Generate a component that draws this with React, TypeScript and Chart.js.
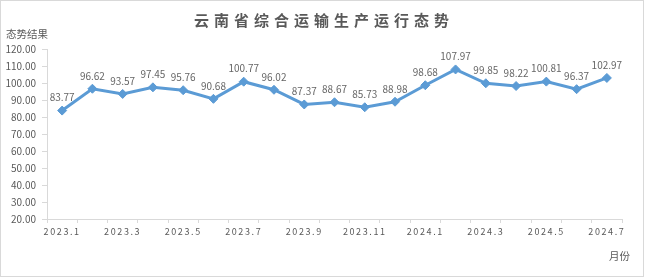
import React, { useEffect, useRef } from 'react';
import { Chart, registerables } from 'chart.js';

Chart.register(...registerables);

const TITLE = '云南省综合运输生产运行态势';
const Y_TITLE = '态势结果';
const X_TITLE = '月份';

const categories = [
  '2023.1', '2023.2', '2023.3', '2023.4', '2023.5', '2023.6', '2023.7', '2023.8', '2023.9', '2023.10',
  '2023.11', '2023.12', '2024.1', '2024.2', '2024.3', '2024.4', '2024.5', '2024.6', '2024.7',
];
const values = [
  83.77, 96.62, 93.57, 97.45, 95.76, 90.68, 100.77, 96.02, 87.37, 88.67,
  85.73, 88.98, 98.68, 107.97, 99.85, 98.22, 100.81, 96.37, 102.97,
];
const Y_MIN = 20;
const Y_MAX = 120;
const Y_STEP = 10;

const FONT = '"Noto Sans CJK SC", "Noto Sans", sans-serif';
const TEXT = '#595959';
const LINE = '#5b9bd5';
const AXIS = '#d9d9d9';

const decor = {
  id: 'decor',
  beforeDraw(chart: any) {
    const { ctx, width, height } = chart;
    ctx.save();
    ctx.fillStyle = '#ffffff';
    ctx.fillRect(0, 0, width, height);
    ctx.strokeStyle = AXIS;
    ctx.lineWidth = 1;
    ctx.strokeRect(0.5, 0.5, width - 2, height - 2);
    ctx.fillStyle = TEXT;
    ctx.textBaseline = 'middle';
    ctx.textAlign = 'center';
    ctx.font = `bold 15px ${FONT}`;
    (ctx as any).letterSpacing = '5px';
    ctx.fillText(TITLE, 324, 20);
    (ctx as any).letterSpacing = '0px';
    ctx.textAlign = 'left';
    ctx.font = `10.5px ${FONT}`;
    ctx.fillText(Y_TITLE, 6, 34);
    ctx.fillText(X_TITLE, 609, 256);
    ctx.restore();
  },
  afterDatasetsDraw(chart: any) {
    const { ctx } = chart;
    const meta = chart.getDatasetMeta(0);
    ctx.save();
    ctx.fillStyle = '#666666';
    ctx.font = `10px ${FONT}`;
    ctx.textAlign = 'center';
    ctx.textBaseline = 'middle';
    meta.data.forEach((pt: any, i: number) => {
      ctx.fillText(values[i].toFixed(2), pt.x, pt.y - 13);
    });
    ctx.restore();
    (ctx as any).letterSpacing = '1.6px';
  },
  afterDraw(chart: any) {
    (chart.ctx as any).letterSpacing = '0px';
  },
};

export default function App() {
  const ref = useRef<HTMLCanvasElement | null>(null);
  useEffect(() => {
    if (!ref.current) return;
    const chart = new Chart(ref.current, {
      type: 'line',
      data: {
        labels: categories,
        datasets: [
          {
            data: values,
            borderColor: LINE,
            backgroundColor: LINE,
            borderWidth: 3,
            pointStyle: 'rectRot',
            pointRadius: 4.5,
            pointBackgroundColor: LINE,
            pointBorderColor: LINE,
            pointBorderWidth: 1,
            tension: 0,
          },
        ],
      },
      options: {
        responsive: false,
        animation: false,
        layout: { padding: { top: 49, right: 23, bottom: 0, left: 0 } },
        plugins: {
          legend: { display: false },
          tooltip: { enabled: false },
          title: { display: false },
        },
        scales: {
          x: {
            offset: true,
            grid: { display: true, drawOnChartArea: false, drawTicks: true, tickLength: 4, color: AXIS, offset: true },
            border: { display: true, color: AXIS, width: 1 },
            ticks: {
              z: 1,
              autoSkip: false,
              maxRotation: 0,
              minRotation: 0,
              padding: 3,
              color: TEXT,
              font: { size: 9, family: FONT },
              callback: (_v: any, i: number) => (i % 2 === 0 ? categories[i] : ''),
            },
            afterFit: (s: any) => {
              s.height = 59;
            },
          },
          y: {
            min: Y_MIN,
            max: Y_MAX,
            grid: { display: true, drawOnChartArea: false, drawTicks: true, tickLength: 5, color: AXIS },
            border: { display: true, color: AXIS, width: 1 },
            ticks: {
              stepSize: Y_STEP,
              padding: 6,
              color: TEXT,
              font: { size: 10, family: FONT },
              callback: (v: any) => Number(v).toFixed(2),
            },
            afterFit: (s: any) => {
              s.width = 47;
            },
          },
        },
      },
      plugins: [decor],
    } as any);
    return () => chart.destroy();
  }, []);
  return (
    <div style={{ position: 'fixed', left: 0, top: 0, width: 645, height: 278 }}>
      <canvas ref={ref} width={645} height={278} style={{ display: 'block', width: 645, height: 278 }} />
    </div>
  );
}
